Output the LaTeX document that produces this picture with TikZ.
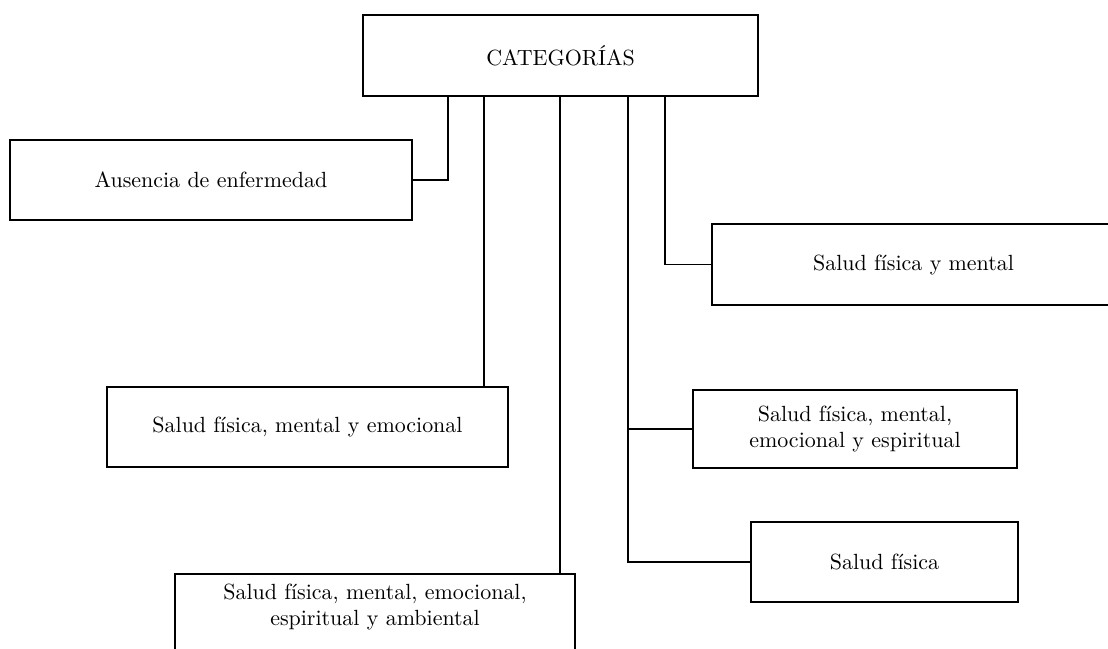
\documentclass[tikz,border=0pt]{standalone}
\usepackage[utf8]{inputenc}

\tikzset{
    box/.style={draw, line width=0.9pt, minimum height=12.8mm, align=center, inner sep=0pt},
    link/.style={line width=0.6pt}
}

\begin{document}
\begin{tikzpicture}[x=0.16mm, y=-0.16mm]
    \useasboundingbox (0,0) rectangle (1108,648);
    \clip (0,0) rectangle (1108,648);

    % Boxes
    \node[box, minimum width=63.2mm, minimum height=13mm] (cat) at (560.5,55.5) {CATEGOR\'IAS};
    \node[box, minimum width=64.3mm] (aus) at (211,180) {Ausencia de enfermedad};
    \node[box, minimum width=67.2mm, minimum height=13mm] (fisment) at (922,264.5) {};
    \node (fismenttxt) at (913.5,264.5) {Salud f\'isica y mental};
    \node[box, minimum width=64.2mm] (emo) at (307.5,427) {Salud f\'isica, mental y emocional};
    \node[box, minimum width=51.8mm, minimum height=12.5mm] (espi) at (855,429) {Salud f\'isica, mental,\\ emocional y espiritual};
    \node[box, minimum width=42.7mm] (fis) at (884.5,562) {Salud f\'isica};
    \node[box, minimum width=64mm, minimum height=13.2mm] (amb) at (375,615) {};
    \node[align=center] (ambtxt) at (375,607) {Salud f\'isica, mental, emocional,\\ espiritual y ambiental};

    % Connectors
    \foreach \name/\xpos in {ca/448, cb/484, cc/560, cd/628, ce/665} {
        \coordinate (\name) at (\xpos,0);
    }
    \draw[link] (cat.south -| ca) |- (aus.east);
    \draw[link] (cat.south -| cb) -- (emo.north -| cb);
    \draw[link] (cat.south -| cc) -- (amb.north -| cc);
    \draw[link] (cat.south -| cd) |- (fis.west);
    \draw[link] (espi.west -| cd) -- (espi.west);
    \draw[link] (cat.south -| ce) |- (fisment.west);
\end{tikzpicture}
\end{document}
